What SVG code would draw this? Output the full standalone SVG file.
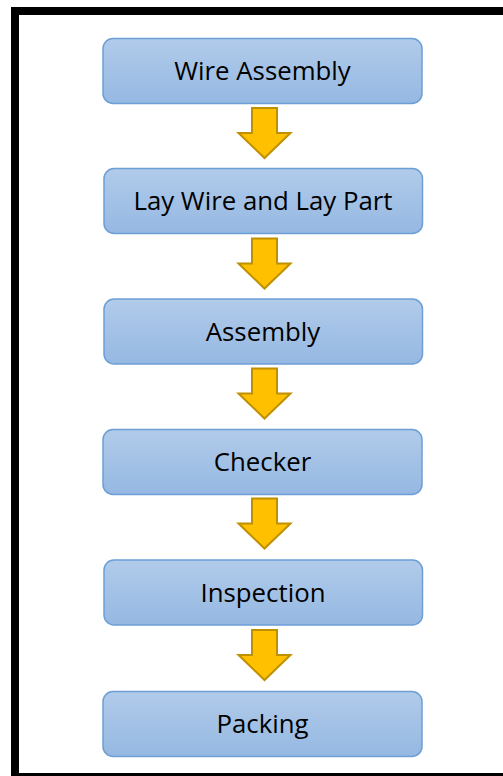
<svg xmlns="http://www.w3.org/2000/svg" width="503" height="776" viewBox="0 0 503 776">
<defs>
<linearGradient id="g" x1="0" y1="0" x2="0" y2="1">
<stop offset="0" stop-color="#b1cbea"/>
<stop offset="1" stop-color="#95b8e2"/>
</linearGradient>
<style>
.box{fill:url(#g);stroke:#6d9fd6;stroke-width:1.5}
.lbl{font-family:"Open Sans","Liberation Sans",sans-serif;font-size:25.8px;fill:#000;text-anchor:middle}
.arr{fill:#ffc000;stroke:#bf9000;stroke-width:2;stroke-linejoin:miter}
</style>
<path id="ar" class="arr" d="M-12.5,0 H12.5 V25 H26 L0,50 L-26,25 H-12.5 Z"/>
</defs>
<rect x="0" y="0" width="503" height="776" fill="#fff"/>
<rect x="15" y="11" width="500" height="766" fill="none" stroke="#000" stroke-width="8"/>
<g id="connectors">
<use href="#ar" x="264.5" y="108"/>
<use href="#ar" x="264.5" y="238.5"/>
<use href="#ar" x="264.5" y="368.5"/>
<use href="#ar" x="264.5" y="498.5"/>
<use href="#ar" x="264.5" y="630"/>
</g>
<g id="n1"><rect class="box" x="103" y="38.5" width="319" height="65" rx="10"/><text class="lbl" x="262.5" y="80">Wire Assembly</text></g>
<g id="n2"><rect class="box" x="104" y="168.5" width="318.5" height="65" rx="10"/><text class="lbl" x="263" y="210">Lay Wire and Lay Part</text></g>
<g id="n3"><rect class="box" x="104" y="299" width="318.5" height="65" rx="10"/><text class="lbl" x="263" y="340.5">Assembly</text></g>
<g id="n4"><rect class="box" x="103" y="429.5" width="319" height="65" rx="10"/><text class="lbl" x="262.5" y="471">Checker</text></g>
<g id="n5"><rect class="box" x="104" y="560" width="318.5" height="65" rx="10"/><text class="lbl" x="263" y="601.5">Inspection</text></g>
<g id="n6"><rect class="box" x="103" y="691.5" width="319" height="65" rx="10"/><text class="lbl" x="262.5" y="733">Packing</text></g>
</svg>
